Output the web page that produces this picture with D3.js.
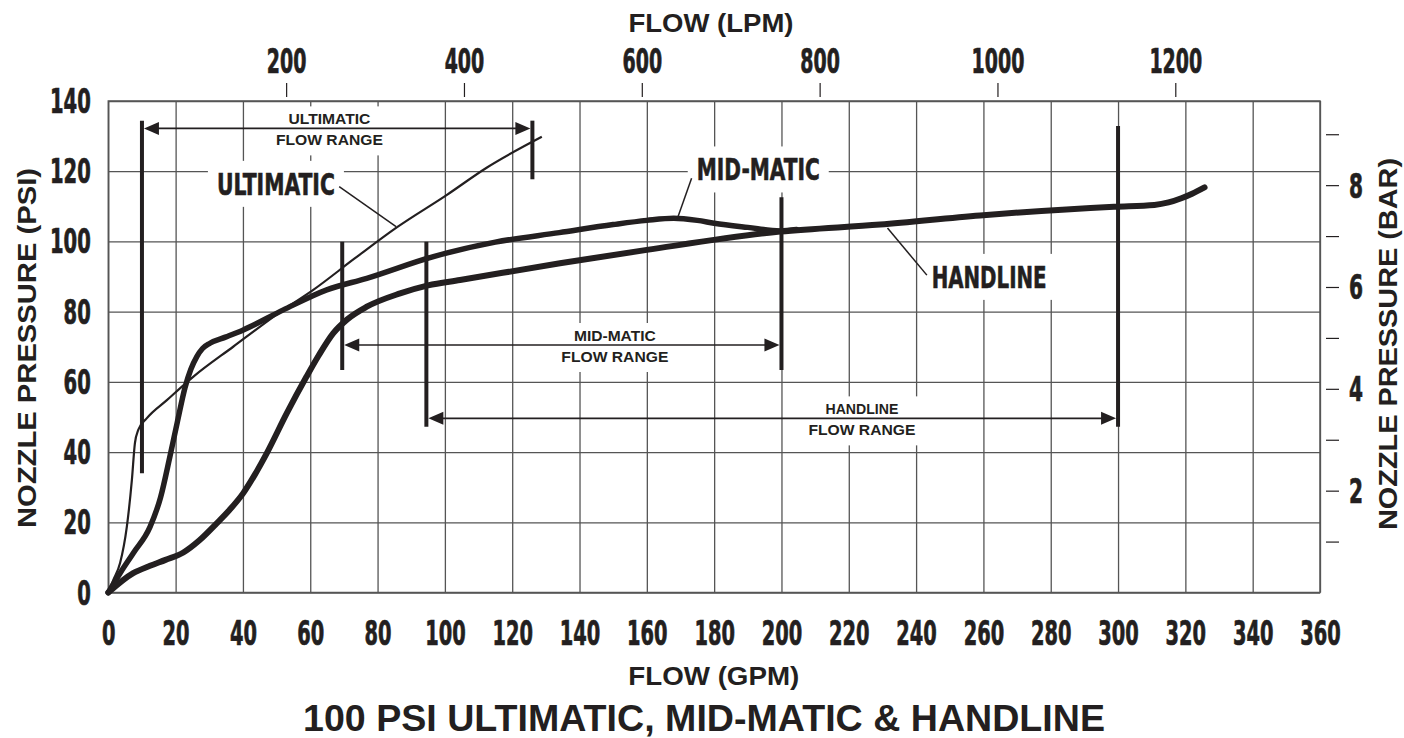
<!DOCTYPE html>
<html>
<head>
<meta charset="utf-8">
<script src="https://cdn.jsdelivr.net/npm/d3@7/dist/d3.min.js"></script>
<style>
  body { margin: 0; background: #fff; }
  svg { display: block; }
</style>
</head>
<body>
<svg id="chart" width="1404" height="738"></svg>
<script>
// axis ticks
const gpmTicks = d3.range(0, 361, 20);
const psiTicks = d3.range(0, 141, 20);
const lpmTicks = [200, 400, 600, 800, 1000, 1200];
const barTicks = [1, 2, 3, 4, 5, 6, 7, 8, 9];
const barLabels = [2, 4, 6, 8];

// curves: [flow GPM, nozzle pressure PSI]
const ultimatic = [[0, 0], [1.5, 3.6], [3.5, 8.4], [5.5, 18.7], [7, 32], [7.9, 42.5], [8.9, 46.3],
  [11.4, 49.6], [17.4, 54.8], [25.3, 61.5], [37.1, 70], [52, 80.5], [60.9, 86.2], [73, 95],
  [85.7, 104], [100.5, 113.2], [112.4, 121], [128.8, 129.8]];

const midmatic = [[0, 0], [3.5, 5.5], [7.4, 11.2], [12.4, 18.7], [15.5, 27], [18.3, 38.7], [20.5, 48.5],
  [22.8, 58.4], [24.5, 63.5], [26.3, 67.2], [28, 69.5], [30.2, 71], [35, 72.8], [40.1, 74.8],
  [52, 80.5], [64.9, 86.2], [76.8, 89.5], [96.6, 95.7], [115, 99.8], [134, 102.5], [150, 104.8],
  [160, 106], [168, 106.6], [175, 106], [180, 105.2], [190, 104], [199.6, 103], [204.5, 103.4]];

const handline = [[0, 0], [7.4, 5.5], [12.4, 7.6], [17, 9.3], [22.3, 11.4], [27, 14.8], [32.2, 19.7],
  [36, 23.5], [40.1, 28.3], [43.5, 33.5], [47.1, 39.7], [53, 51], [58.9, 61.5], [62.5, 67.5],
  [66.8, 73.8], [71, 77.8], [76.8, 81.4], [86.7, 85.2], [95, 87.5], [104.5, 89], [134.2, 93.8],
  [160, 97.6], [199.6, 102.8], [229.3, 104.8], [259, 107.4], [298.8, 109.9], [310.8, 110.4],
  [315, 111.1], [318.8, 112.3], [322, 113.6], [325.7, 115.4]];

// flow ranges in GPM
const rangeNames = ['ULTIMATIC', 'MID-MATIC', 'HANDLINE'];
const rangeFrom = [10, 69.5, 94.5];
const rangeTo = [126, 200, 300];

const LPM_PER_GPM = 3.78541;
const PSI_PER_BAR = 14.5038;

// layout (data units) for the range brackets and labels
const rangeLayout = [
  { arrow: 132.2, left: [34, 134.4], right: [117.7, 134.4], textX: 65.7 },
  { arrow: 70.5, left: [63.4, 99.9], right: [63.4, 112.6], textX: 150.5 },
  { arrow: 49.6, left: [47.2, 99.9], right: [47.2, 132.9], textX: 223.9 }
];
const curveLabels = [
  { text: 'ULTIMATIC', at: [49.8, 116.4], w: 118, leader: [[68.6, 115.6], [85.5, 104.2]] },
  { text: 'MID-MATIC', at: [193.1, 120.5], w: 123, leader: [[173.3, 118], [169.1, 106.6]] },
  { text: 'HANDLINE', at: [261.7, 89.9], w: 115, leader: [[243.2, 90.4], [231.5, 103.8]] }
];

const INK = '#231f20';
const GRID = '#555';
const NARROW = "'Liberation Sans Narrow','Arial Narrow','DejaVu Sans Condensed',sans-serif";
const WIDE = "'Liberation Sans',Arial,Helvetica,sans-serif";

const svg = d3.select('#chart');
const plot = { l: 108.3, r: 1320, t: 101, b: 592.5 };

const x = d3.scaleLinear().domain([0, 360]).range([plot.l, plot.r]);
const y = d3.scaleLinear().domain([0, 140]).range([plot.b, plot.t]);
const xLpm = d3.scaleLinear().domain([0, 360 * LPM_PER_GPM]).range([plot.l, plot.r]);
const yBar = d3.scaleLinear().domain([0, 140 / PSI_PER_BAR]).range([plot.b, plot.t]);

// grid
const gx = svg.append('g')
  .attr('transform', `translate(0,${plot.b})`)
  .call(d3.axisBottom(x).tickValues(gpmTicks).tickSize(-(plot.b - plot.t)).tickFormat(''));
const gy = svg.append('g')
  .attr('transform', `translate(${plot.l},0)`)
  .call(d3.axisLeft(y).tickValues(psiTicks).tickSize(-(plot.r - plot.l)).tickFormat(''));
[gx, gy].forEach(g => {
  g.select('.domain').remove();
  g.selectAll('line').attr('stroke', GRID).attr('stroke-width', 1.3);
});
svg.append('rect')
  .attr('x', plot.l).attr('y', plot.t)
  .attr('width', plot.r - plot.l).attr('height', plot.b - plot.t)
  .attr('fill', 'none').attr('stroke', GRID).attr('stroke-width', 1.5);

function styleNum(g, perChar) {
  g.select('.domain').remove();
  g.selectAll('text')
    .attr('font-family', NARROW)
    .attr('font-weight', 'bold')
    .attr('font-size', 33)
    .attr('fill', INK)
    .attr('stroke', INK)
    .attr('stroke-width', 0.7)
    .each(function () {
      const t = d3.select(this).text();
      if (t) d3.select(this).attr('textLength', t.length * perChar).attr('lengthAdjust', 'spacingAndGlyphs');
    });
}

// bottom GPM labels
const bx = svg.append('g')
  .attr('transform', `translate(0,${plot.b})`)
  .call(d3.axisBottom(x).tickValues(gpmTicks).tickSize(0));
bx.selectAll('text').attr('y', 52).attr('dy', null);
styleNum(bx, 13.5);

// left PSI labels
const ly = svg.append('g')
  .attr('transform', `translate(${plot.l},0)`)
  .call(d3.axisLeft(y).tickValues(psiTicks).tickSize(0));
ly.selectAll('text').attr('x', -17.5).attr('dy', '0.35em');
styleNum(ly, 13.6);

// top LPM axis
const tx = svg.append('g')
  .attr('transform', 'translate(0,97)')
  .call(d3.axisTop(xLpm).tickValues(lpmTicks).tickSize(14).tickPadding(10).tickFormat(d3.format('d')));
tx.selectAll('line').attr('stroke', INK).attr('stroke-width', 1.2);
styleNum(tx, 13.2);

// right BAR axis
const ry = svg.append('g')
  .attr('transform', 'translate(1326,0)')
  .call(d3.axisRight(yBar).tickValues(barTicks).tickSize(13).tickPadding(10)
    .tickFormat(d => barLabels.includes(d) ? d : ''));
ry.selectAll('line').attr('stroke', INK).attr('stroke-width', 1.2);
ry.selectAll('text').attr('dy', '0.36em');
styleNum(ry, 14);

// axis titles
function title(txt, tx_, ty, size, len, rot) {
  svg.append('text')
    .attr('transform', `translate(${tx_},${ty})` + (rot ? ` rotate(${rot})` : ''))
    .attr('text-anchor', 'middle')
    .attr('font-family', WIDE)
    .attr('font-weight', 'bold')
    .attr('font-size', size)
    .attr('fill', INK)
    .attr('textLength', len)
    .attr('lengthAdjust', 'spacingAndGlyphs')
    .text(txt);
}
title('FLOW (LPM)', 711, 32, 25, 165);
title('FLOW (GPM)', 713.8, 685, 25, 171);
title('NOZZLE PRESSURE (PSI)', 36, 348, 25, 360, -90);
title('NOZZLE PRESSURE (BAR)', 1397, 344, 25, 372, -90);
title('100 PSI ULTIMATIC, MID-MATIC & HANDLINE', 704, 731, 37, 802);

// white boxes behind curve labels
curveLabels.forEach(c => {
  const cx = x(c.at[0]), cy = y(c.at[1]);
  svg.append('rect')
    .attr('x', cx - c.w / 2 - 9).attr('y', cy - 23)
    .attr('width', c.w + 18).attr('height', 46)
    .attr('fill', '#fff');
});

// white boxes behind range labels
rangeLayout.forEach(r => {
  const cx = x(r.textX), ay = y(r.arrow);
  svg.append('rect')
    .attr('x', cx - 57).attr('y', ay - 22)
    .attr('width', 114).attr('height', 49)
    .attr('fill', '#fff');
});

// curves
const line = d3.line().x(d => x(d[0])).y(d => y(d[1])).curve(d3.curveMonotoneX);
svg.append('path').datum(handline).attr('d', line)
  .attr('fill', 'none').attr('stroke', INK).attr('stroke-width', 6).attr('stroke-linecap', 'round');
svg.append('path').datum(midmatic).attr('d', line)
  .attr('fill', 'none').attr('stroke', INK).attr('stroke-width', 5.5).attr('stroke-linecap', 'round');
svg.append('path').datum(ultimatic).attr('d', line)
  .attr('fill', 'none').attr('stroke', INK).attr('stroke-width', 2.2).attr('stroke-linecap', 'butt')
  .attr('stroke-linejoin', 'round');

// flow range brackets
rangeNames.forEach((name, i) => {
  const r = rangeLayout[i];
  const x0 = x(rangeFrom[i]), x1 = x(rangeTo[i]), ay = y(r.arrow);
  const g = svg.append('g');
  g.append('line').attr('x1', x0).attr('x2', x0).attr('y1', y(r.left[0])).attr('y2', y(r.left[1]))
    .attr('stroke', INK).attr('stroke-width', 4);
  g.append('line').attr('x1', x1).attr('x2', x1).attr('y1', y(r.right[0])).attr('y2', y(r.right[1]))
    .attr('stroke', INK).attr('stroke-width', 4);
  g.append('line').attr('x1', x0 + 10).attr('x2', x1 - 10).attr('y1', ay).attr('y2', ay)
    .attr('stroke', INK).attr('stroke-width', 1.6);
  g.append('path')
    .attr('d', `M${x0 + 2},${ay} L${x0 + 17},${ay - 6.5} L${x0 + 17},${ay + 6.5} Z`)
    .attr('fill', INK);
  g.append('path')
    .attr('d', `M${x1 - 2},${ay} L${x1 - 17},${ay - 6.5} L${x1 - 17},${ay + 6.5} Z`)
    .attr('fill', INK);
  const cx = x(r.textX);
  g.append('text').attr('x', cx).attr('y', ay - 4)
    .attr('text-anchor', 'middle').attr('font-family', WIDE).attr('font-weight', 'bold')
    .attr('font-size', 15.5).attr('fill', INK)
    .attr('textLength', name.length * 9.1).attr('lengthAdjust', 'spacingAndGlyphs')
    .text(name);
  g.append('text').attr('x', cx).attr('y', ay + 17)
    .attr('text-anchor', 'middle').attr('font-family', WIDE).attr('font-weight', 'bold')
    .attr('font-size', 15.5).attr('fill', INK)
    .attr('textLength', 107).attr('lengthAdjust', 'spacingAndGlyphs')
    .text('FLOW RANGE');
});

// curve labels and leaders
curveLabels.forEach(c => {
  svg.append('line')
    .attr('x1', x(c.leader[0][0])).attr('y1', y(c.leader[0][1]))
    .attr('x2', x(c.leader[1][0])).attr('y2', y(c.leader[1][1]))
    .attr('stroke', INK).attr('stroke-width', 1.5);
  svg.append('text')
    .attr('x', x(c.at[0])).attr('y', y(c.at[1]) + 11)
    .attr('text-anchor', 'middle')
    .attr('font-family', NARROW).attr('font-weight', 'bold').attr('font-size', 31)
    .attr('fill', INK).attr('stroke', INK).attr('stroke-width', 0.6)
    .attr('textLength', c.w).attr('lengthAdjust', 'spacingAndGlyphs')
    .text(c.text);
});
</script>
</body>
</html>
